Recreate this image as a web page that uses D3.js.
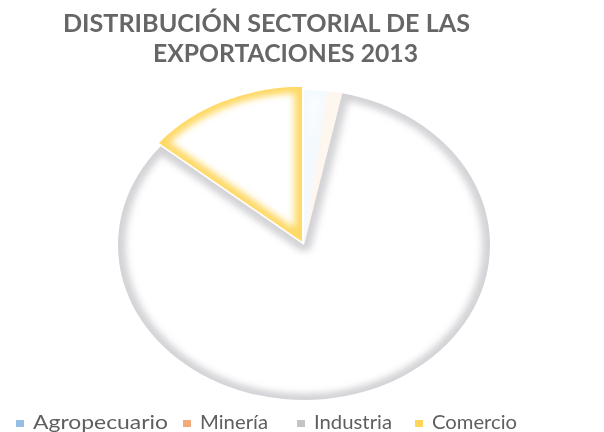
<!DOCTYPE html>
<html>
<head>
<meta charset="utf-8">
<script src="https://cdn.jsdelivr.net/npm/d3@7"></script>
<style>
  body { margin: 0; background: #fff; }
  svg { display: block; font-family: Lato, "Open Sans", sans-serif; }
</style>
</head>
<body>
<svg id="chart" width="604" height="432"></svg>
<script>
// datos (%)
const sectores = ['Agropecuario', 'Minería', 'Industria', 'Comercio']
const valores = [2.0, 1.3, 82.7, 14.0]
const colores = ['#5b9bd5', '#ed7d31', '#a5a5a5', '#ffc000']
const tituloLineas = ['DISTRIBUCIÓN SECTORIAL DE LAS', 'EXPORTACIONES 2013']

const svg = d3.select('#chart')
const datos = sectores.map((s, i) => ({ sector: s, valor: valores[i], color: colores[i] }))

// blur para el borde interior
const defs = svg.append('defs')
defs.append('filter')
    .attr('id', 'glow')
    .attr('x', '-20%').attr('y', '-20%').attr('width', '140%').attr('height', '140%')
    .append('feGaussianBlur')
    .attr('stdDeviation', 3.2)
defs.append('filter')
    .attr('id', 'suave')
    .append('feGaussianBlur')
    .attr('stdDeviation', 0.5)

// titulo
const titulo = [
    { t: tituloLineas[0], x: 63, y: 32, w: 407 },
    { t: tituloLineas[1], x: 153, y: 62, w: 265 }
]
svg.selectAll('text.titulo')
    .data(titulo)
    .join('text')
    .attr('class', 'titulo')
    .attr('x', d => d.x)
    .attr('y', d => d.y)
    .attr('textLength', d => d.w)
    .attr('lengthAdjust', 'spacingAndGlyphs')
    .attr('font-size', '24px')
    .attr('font-weight', 'bold')
    .attr('fill', '#666')
    .attr('filter', 'url(#suave)')
    .text(d => d.t)

// pie (la imagen esta estirada horizontalmente)
const radio = 155
const pie = d3.pie().sort(null).value(d => d.valor).startAngle(0)
const arc = d3.arc().innerRadius(0).outerRadius(radio)
const arcos = pie(datos)

const g = svg.append('g')
    .attr('transform', 'translate(304,245) scale(1.2,1)')

const explode = d => d.data.sector === 'Comercio' ? 3.5 : 0
const opacidad = { 'Agropecuario': 0.06, 'Minería': 0.06, 'Industria': 0.5, 'Comercio': 0.6 }

const slices = g.selectAll('g.slice')
    .data(arcos)
    .join('g')
    .attr('class', 'slice')
    .attr('transform', d => {
        const a = (d.startAngle + d.endAngle) / 2
        const e = explode(d)
        return 'translate(' + (Math.sin(a) * e) + ',' + (-Math.cos(a) * e) + ')'
    })

slices.append('clipPath')
    .attr('id', (d, i) => 'clip' + i)
    .append('path')
    .attr('d', arc)

slices.append('path')
    .attr('d', arc)
    .attr('fill', '#fff')

slices.append('path')
    .attr('d', arc)
    .attr('fill', 'none')
    .attr('stroke', d => d.data.sector === 'Industria' ? '#a8a8b0' : d.data.color)
    .attr('stroke-opacity', d => opacidad[d.data.sector])
    .attr('stroke-width', 13)
    .attr('stroke-linejoin', 'round')
    .attr('filter', 'url(#glow)')
    .attr('clip-path', (d, i) => 'url(#clip' + i + ')')

// leyenda
const leyX = [16, 183, 297, 415]
const leyW = [135, 68, 78, 85]
const ley = svg.selectAll('g.ley')
    .data(datos)
    .join('g')
    .attr('class', 'ley')
    .attr('transform', (d, i) => 'translate(' + leyX[i] + ',0)')

ley.append('rect')
    .attr('x', 0).attr('y', 420)
    .attr('width', 8).attr('height', 7)
    .attr('fill', d => d.color)
    .attr('opacity', 0.65)

ley.append('text')
    .attr('x', 17)
    .attr('y', 429)
    .attr('textLength', (d, i) => leyW[i])
    .attr('lengthAdjust', 'spacingAndGlyphs')
    .attr('font-size', '19px')
    .attr('fill', '#5e5e5e')
    .attr('filter', 'url(#suave)')
    .text(d => d.sector)
</script>
</body>
</html>
